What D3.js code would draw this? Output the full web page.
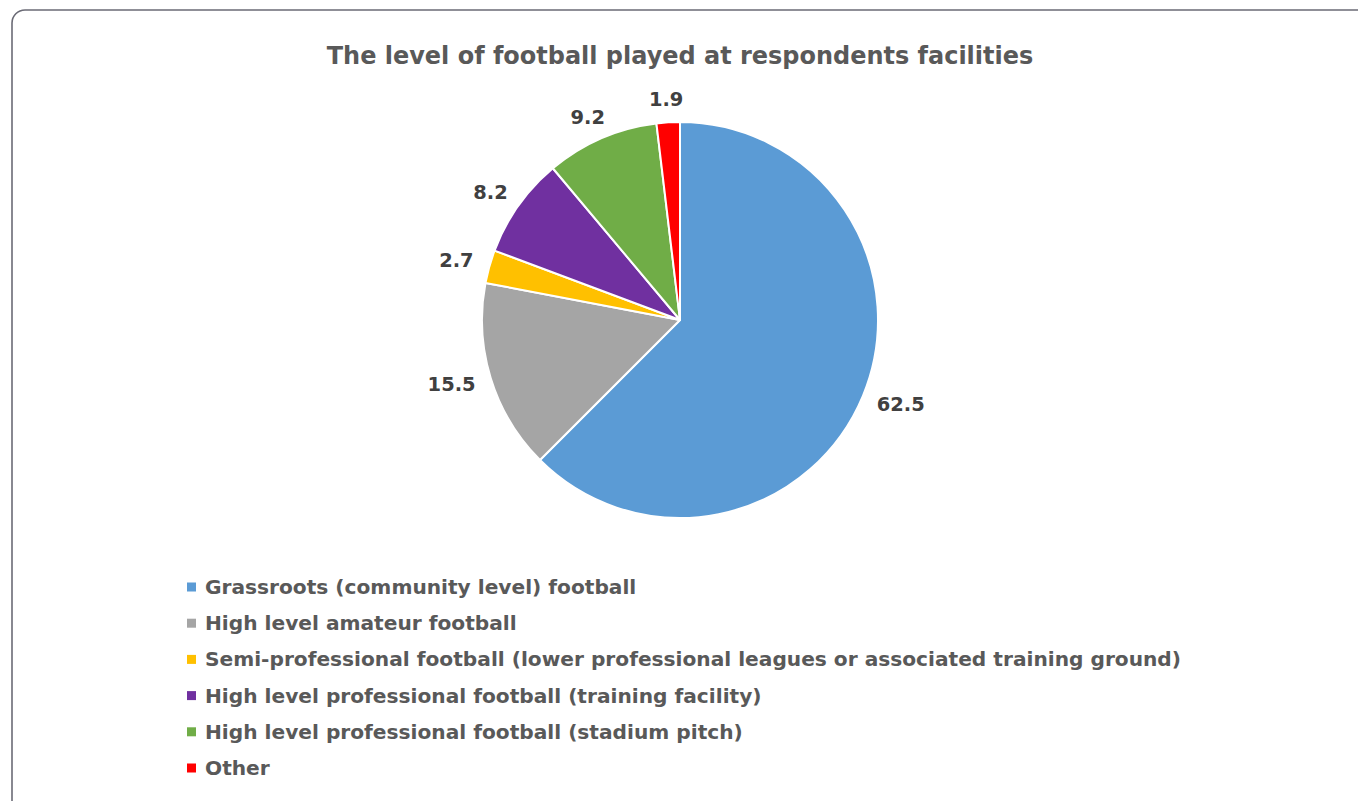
<!DOCTYPE html>
<html>
<head>
<meta charset="utf-8">
<script src="https://cdn.jsdelivr.net/npm/d3@7"></script>
<style>
  html, body { margin: 0; padding: 0; background: #ffffff; }
  svg { display: block; }
</style>
</head>
<body>
<svg id="chart" width="1358" height="801"></svg>
<script>
// Share of respondents by level of football played at their facilities (%)
const categories = [
  "Grassroots (community level) football",
  "High level amateur football",
  "Semi-professional football (lower professional leagues or associated training ground)",
  "High level professional football (training facility)",
  "High level professional football (stadium pitch)",
  "Other"
];
const values = [62.5, 15.5, 2.7, 8.2, 9.2, 1.9];
const colors = ["#5B9BD5", "#A5A5A5", "#FFC000", "#7030A0", "#70AD47", "#FF0000"];
const title = "The level of football played at respondents facilities";

const FONT = "'DejaVu Sans', 'Open Sans', sans-serif";
const svg = d3.select("#chart");

// Font size that makes a text run to the given width
function sizeFor(node, target) {
  const fs = parseFloat(node.getAttribute("font-size"));
  return fs * target / node.getComputedTextLength();
}

// Chart frame (rounded border running past the right and bottom edges)
svg.append("rect")
  .attr("x", 12).attr("y", 10)
  .attr("width", 1400).attr("height", 820)
  .attr("rx", 13).attr("ry", 13)
  .attr("fill", "#ffffff")
  .attr("stroke", "#6b6b76")
  .attr("stroke-width", 1.6);

// Title
const titleText = svg.append("text")
  .attr("x", 680).attr("y", 64)
  .attr("text-anchor", "middle")
  .attr("font-family", FONT)
  .attr("font-weight", 700)
  .attr("font-size", 22)
  .attr("fill", "#595959")
  .text(title);
titleText.attr("font-size", sizeFor(titleText.node(), 707));

// Pie
const cx = 680, cy = 320, r = 198;
const data = categories.map((c, i) => ({ name: c, value: values[i], color: colors[i] }));
const pie = d3.pie().value(d => d.value).sort(null);
const arc = d3.arc().innerRadius(0).outerRadius(r);
const arcs = pie(data);

const g = svg.append("g").attr("transform", `translate(${cx},${cy})`);
g.selectAll("path.slice")
  .data(arcs)
  .join("path")
  .attr("class", "slice")
  .attr("d", arc)
  .attr("fill", d => d.data.color)
  .attr("stroke", "#ffffff")
  .attr("stroke-width", 2)
  .attr("stroke-linejoin", "round");

// Value labels, placed just outside the outer edge of each slice
const fmt = d3.format(".1f");
const labelGap = 17;
const labels = g.selectAll("text.val")
  .data(arcs)
  .join("text")
  .attr("class", "val")
  .attr("font-family", FONT)
  .attr("font-weight", 700)
  .attr("font-size", 20)
  .attr("fill", "#404040")
  .attr("text-anchor", "middle")
  .attr("dominant-baseline", "central")
  .text(d => fmt(d.data.value));
labels.attr("font-size", sizeFor(labels.nodes()[0], 48));

labels.each(function (d) {
  const w = this.getComputedTextLength();
  const a = (d.startAngle + d.endAngle) / 2;
  const s = Math.sin(a), c = Math.cos(a);
  const R = r + labelGap;
  d3.select(this)
    .attr("x", R * s + s * w / 2)
    .attr("y", -R * c - c * 6);
});

// Legend
const legend = svg.append("g").attr("transform", "translate(187,587)");
const rowH = 36.2;
const rows = legend.selectAll("g.item")
  .data(data)
  .join("g")
  .attr("class", "item")
  .attr("transform", (d, i) => `translate(0,${i * rowH})`);
rows.append("rect")
  .attr("x", 0).attr("y", -4.5)
  .attr("width", 9).attr("height", 9)
  .attr("fill", d => d.color);
const legendText = rows.append("text")
  .attr("x", 18).attr("y", 7)
  .attr("font-family", FONT)
  .attr("font-weight", 700)
  .attr("font-size", 18)
  .attr("fill", "#595959")
  .text(d => d.name);
legendText.attr("font-size", sizeFor(legendText.nodes()[2], 977));
</script>
</body>
</html>
